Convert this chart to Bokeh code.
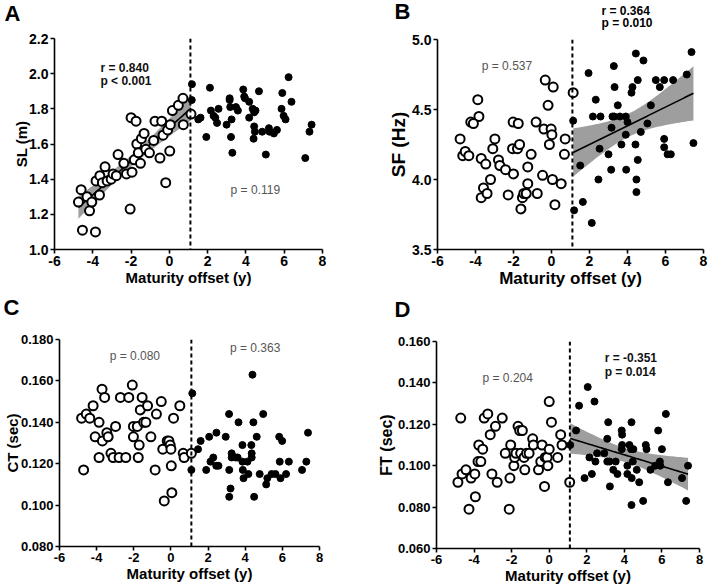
import numpy as np
from bokeh.plotting import figure
from bokeh.layouts import column, row
from bokeh.models import Range1d, FixedTicker, NumeralTickFormatter, PrintfTickFormatter, Span, Label
from bokeh.core.properties import value
from bokeh.embed import file_html
from bokeh.resources import INLINE

FONT = "Liberation Sans"

# Maturity offset cut-off separating pre-PHV (open) and post-PHV (filled) players
phv_cut = 1.1
x_ticks = [-6, -4, -2, 0, 2, 4, 6, 8]

# ---- A: stride length ----
a_pre_x = [-4.75, -4.61, -4.54, -4.30, -4.17, -4.05, -3.86, -3.83, -3.65, -3.63, -3.50, -3.36, -3.25, -3.04, -2.94,
           -2.77, -2.68, -2.38, -2.24, -2.05, -2.00, -1.95, -1.83, -1.74, -1.70, -1.62, -1.51, -1.46, -1.32, -1.23,
           -1.04, -0.82, -0.75, -0.49, -0.40, -0.33, -0.19, -0.09, 0.02, 0.05, 0.16, 0.47, 0.71, 0.73, 1.13]
a_pre_y = [1.27, 1.34, 1.11, 1.30, 1.22, 1.27, 1.10, 1.39, 1.31, 1.42, 1.38, 1.47, 1.39, 1.40, 1.43,
           1.42, 1.54, 1.49, 1.43, 1.23, 1.75, 1.44, 1.51, 1.73, 1.60, 1.55, 1.49, 1.63, 1.66, 1.57,
           1.55, 1.62, 1.73, 1.52, 1.73, 1.65, 1.38, 1.68, 1.56, 1.71, 1.79, 1.82, 1.86, 1.71, 1.77]
a_post_x = [1.18, 1.17, 1.51, 1.63, 1.93, 2.12, 2.17, 2.31, 2.40, 2.49, 2.57, 2.99, 3.15, 3.15, 3.18, 3.22,
            3.25, 3.29, 3.48, 3.58, 3.86, 3.91, 3.95, 4.17, 4.17, 4.35, 4.43, 4.50, 4.43, 4.47, 4.40, 4.68,
            4.85, 5.04, 5.20, 5.23, 5.46, 5.62, 5.86, 5.90, 5.97, 6.07, 6.23, 6.38, 7.10, 7.32, 7.43]
a_post_y = [1.94, 1.85, 1.74, 1.75, 1.64, 1.92, 1.79, 1.76, 1.75, 1.72, 1.80, 1.71, 1.86, 1.85, 1.81, 1.64,
            1.74, 1.55, 1.81, 1.79, 1.91, 1.87, 1.86, 1.84, 1.75, 1.80, 1.78, 1.79, 1.70, 1.67, 1.63, 1.90,
            1.67, 1.54, 1.69, 1.67, 1.66, 1.68, 1.80, 1.89, 1.76, 1.74, 1.98, 1.84, 1.52, 1.67, 1.71]

# ---- B: stride frequency ----
b_pre_x = [-4.81, -4.67, -4.54, -4.35, -3.88, -3.82, -4.25, -4.11, -3.70, -3.58, -3.70, -3.46, -3.39, -3.21,
           -3.09, -2.98, -2.79, -2.72, -2.42, -2.28, -2.05, -2.02, -2.00, -1.79, -1.75, -1.68, -1.61, -1.53,
           -1.46, -1.33, -1.25, -1.25, -1.07, -0.81, -0.75, -0.47, -0.40, -0.33, -0.18, -0.11, -0.02, 0.02,
           0.05, 0.09, 0.18, 0.51, 0.72, 0.68, 1.14]
b_pre_y = [4.29, 4.17, 4.20, 4.17, 4.57, 4.45, 4.41, 4.40, 4.15, 3.94, 3.87, 4.11, 3.90, 4.00,
           4.22, 4.29, 4.14, 4.10, 4.07, 3.89, 4.22, 4.41, 4.04, 4.22, 4.40, 4.25, 3.79, 3.87,
           3.90, 3.90, 4.09, 3.97, 4.18, 4.41, 3.90, 4.03, 4.36, 4.71, 4.53, 4.25, 4.36, 4.32,
           4.00, 4.66, 3.82, 3.97, 4.29, 4.18, 4.62]
b_post_x = [1.14, 1.19, 1.51, 1.65, 1.95, 2.12, 2.18, 2.33, 2.47, 2.58, 2.53, 3.00, 3.14, 3.16, 3.21, 3.28,
            3.30, 3.32, 3.49, 3.60, 3.68, 3.91, 3.91, 3.93, 4.00, 4.21, 4.26, 4.42, 4.44, 4.47, 4.47, 4.54,
            4.54, 4.70, 4.84, 5.05, 5.23, 5.49, 5.70, 5.93, 5.93, 5.93, 6.11, 6.28, 6.40, 7.12, 7.37, 7.47]
b_post_y = [4.42, 3.78, 4.10, 3.84, 4.76, 3.69, 4.45, 4.57, 4.00, 4.45, 4.22, 4.18, 4.07, 4.37, 4.45, 4.81,
            4.45, 4.66, 4.53, 4.45, 4.25, 4.45, 4.32, 4.07, 4.41, 4.62, 4.66, 4.25, 4.90, 4.00, 3.91, 4.71,
            4.14, 4.34, 4.85, 4.40, 4.53, 4.71, 4.66, 4.71, 4.29, 4.23, 4.18, 4.18, 4.71, 4.75, 4.91, 4.26]

# ---- C: contact time ----
c_pre_x = [-4.81, -4.70, -4.56, -4.37, -4.19, -4.08, -3.87, -3.87, -3.71, -3.69, -3.57, -3.45, -3.38, -3.23,
           -3.11, -2.98, -2.79, -2.72, -2.43, -2.27, -2.08, -2.02, -2.02, -1.81, -1.76, -1.71, -1.65, -1.55,
           -1.47, -1.35, -1.26, -1.08, -0.85, -0.78, -0.52, -0.44, -0.36, -0.20, -0.11, -0.04, 0.00, 0.02,
           0.05, 0.14, 0.48, 0.66, 0.71, 1.10]
c_pre_y = [0.142, 0.117, 0.144, 0.142, 0.148, 0.133, 0.140, 0.123, 0.156, 0.131, 0.152, 0.135, 0.133, 0.125,
           0.123, 0.138, 0.123, 0.152, 0.123, 0.152, 0.158, 0.133, 0.138, 0.138, 0.123, 0.129, 0.146, 0.152,
           0.140, 0.140, 0.148, 0.133, 0.117, 0.144, 0.150, 0.127, 0.102, 0.131, 0.131, 0.129, 0.127, 0.119,
           0.106, 0.142, 0.148, 0.125, 0.123, 0.125]
c_post_x = [1.15, 1.10, 1.46, 1.60, 1.90, 2.06, 2.13, 2.28, 2.45, 2.44, 2.56, 2.95, 3.13, 3.14, 3.14, 3.21,
            3.27, 3.27, 3.48, 3.59, 3.64, 3.85, 3.85, 3.87, 3.91, 4.12, 4.17, 4.33, 4.35, 4.35, 4.39, 4.44,
            4.48, 4.62, 4.78, 4.97, 5.13, 5.19, 5.42, 5.63, 5.83, 5.86, 5.90, 5.99, 6.20, 6.35, 7.06, 7.29, 7.38]
c_post_y = [0.154, 0.117, 0.127, 0.131, 0.117, 0.133, 0.121, 0.123, 0.135, 0.119, 0.119, 0.133, 0.144, 0.117,
            0.104, 0.108, 0.125, 0.123, 0.123, 0.123, 0.140, 0.129, 0.121, 0.117, 0.113, 0.121, 0.115, 0.129,
            0.125, 0.123, 0.163, 0.140, 0.104, 0.133, 0.115, 0.144, 0.110, 0.113, 0.115, 0.115, 0.133, 0.121,
            0.113, 0.131, 0.115, 0.121, 0.117, 0.121, 0.135]

# ---- D: flight time ----
d_pre_x = [-4.86, -4.71, -4.64, -4.43, -4.27, -4.16, -3.96, -3.93, -3.75, -3.79, -3.64, -3.54, -3.46, -3.27,
           -3.14, -3.05, -2.86, -2.77, -2.50, -2.34, -2.13, -2.09, -2.05, -1.88, -1.84, -1.77, -1.66, -1.57,
           -1.52, -1.43, -1.34, -1.30, -1.21, -1.07, -0.88, -0.84, -0.57, -0.45, -0.38, -0.25, -0.21, -0.11,
           -0.07, 0.00, 0.00, 0.12, 0.45, 0.61, 0.68, 1.09]
d_pre_y = [0.092, 0.123, 0.096, 0.098, 0.079, 0.094, 0.096, 0.085, 0.110, 0.102, 0.102, 0.108, 0.123, 0.125,
           0.115, 0.096, 0.119, 0.092, 0.123, 0.106, 0.079, 0.094, 0.110, 0.100, 0.104, 0.106, 0.119, 0.117,
           0.106, 0.117, 0.104, 0.098, 0.106, 0.106, 0.113, 0.110, 0.098, 0.102, 0.110, 0.090, 0.104, 0.104,
           0.100, 0.108, 0.131, 0.121, 0.104, 0.115, 0.110, 0.092]
d_post_x = [1.12, 1.43, 1.59, 1.88, 2.05, 2.14, 2.27, 2.41, 2.46, 2.55, 2.93, 3.09, 3.14, 3.09, 3.21, 3.23,
            3.41, 3.54, 3.63, 3.86, 3.88, 3.88, 3.86, 4.16, 4.16, 4.27, 4.38, 4.36, 4.39, 4.38, 4.45, 4.48,
            4.66, 4.79, 5.00, 5.14, 5.18, 5.39, 5.64, 5.80, 5.89, 5.91, 6.00, 6.21, 6.32, 7.07, 7.29, 7.39]
d_post_y = [0.110, 0.117, 0.129, 0.094, 0.138, 0.104, 0.096, 0.131, 0.102, 0.106, 0.106, 0.113, 0.121, 0.102,
            0.102, 0.090, 0.098, 0.102, 0.096, 0.117, 0.115, 0.110, 0.108, 0.100, 0.096, 0.110, 0.121, 0.108,
            0.094, 0.081, 0.102, 0.108, 0.098, 0.092, 0.083, 0.110, 0.108, 0.098, 0.100, 0.117, 0.102, 0.100,
            0.108, 0.125, 0.092, 0.094, 0.083, 0.100]

HEAD_H = 30


def regression_band(x, y, t_crit=2.01, n_pts=60):
    """Least-squares line with its 95% confidence band for the mean."""
    x = np.asarray(x, float)
    y = np.asarray(y, float)
    n = len(x)
    slope, intercept = np.polyfit(x, y, 1)
    resid = y - (intercept + slope * x)
    s = np.sqrt(np.sum(resid ** 2) / (n - 2))
    sxx = np.sum((x - x.mean()) ** 2)
    xs = np.linspace(x.min(), x.max(), n_pts)
    ys = intercept + slope * xs
    half = t_crit * s * np.sqrt(1.0 / n + (xs - x.mean()) ** 2 / sxx)
    return xs, ys, ys - half, ys + half


def header(width, items):
    """Strip above a panel holding the panel letter and any outside notes (pixel space)."""
    h = figure(width=width, height=HEAD_H, output_backend="svg", toolbar_location=None,
               x_range=Range1d(0, width), y_range=Range1d(HEAD_H, 0),
               x_axis_type=None, y_axis_type=None, min_border=0,
               background_fill_color="white", border_fill_color="white")
    h.frame_align = False
    h.outline_line_color = None
    h.grid.visible = False
    for (px, py, txt, size) in items:
        h.text(x=[px], y=[py], text=[txt], text_font=value(FONT), text_font_style="bold",
               text_font_size=value(size), text_baseline="middle", text_align="left",
               text_color="black")
    return h


def panel(width, pre_x, pre_y, post_x, post_y, y_range, y_ticks, y_fmt, y_title,
          borders, fit=None, notes=(), title_size="15px", ytitle_size="16px", tick_size="14px",
          ytitle_standoff=0):
    left, right, top, bottom = borders
    p = figure(width=width, height=294 - HEAD_H, output_backend="svg", toolbar_location=None,
               x_range=Range1d(-6, 8), y_range=Range1d(*y_range),
               min_border_left=left, min_border_right=right,
               min_border_top=top - HEAD_H, min_border_bottom=bottom,
               background_fill_color="white", border_fill_color="white")
    p.frame_align = False
    p.outline_line_color = None
    p.grid.visible = False

    for ax in (p.xaxis[0], p.yaxis[0]):
        ax.axis_line_width = 1.6
        ax.axis_line_color = "black"
        ax.major_tick_line_width = 1.6
        ax.major_tick_out = 4
        ax.major_tick_in = 0
        ax.minor_tick_line_color = None
        ax.major_label_text_font = FONT
        ax.major_label_text_font_style = "bold"
        ax.major_label_text_font_size = tick_size
        ax.major_label_text_color = "black"
        ax.axis_label_text_font = FONT
        ax.axis_label_text_font_style = "bold"
        ax.axis_label_text_color = "black"
        ax.major_label_standoff = 2
        ax.axis_label_standoff = 0

    p.xaxis.ticker = FixedTicker(ticks=x_ticks)
    p.xaxis.formatter = PrintfTickFormatter(format="%d")
    p.xaxis.axis_label = "Maturity offset (y)"
    p.xaxis.axis_label_text_font_size = title_size
    p.yaxis.ticker = FixedTicker(ticks=y_ticks)
    p.yaxis.formatter = NumeralTickFormatter(format=y_fmt)
    p.yaxis.axis_label = y_title
    p.yaxis.axis_label_text_font_size = ytitle_size
    p.yaxis.axis_label_standoff = ytitle_standoff

    # regression line with confidence band
    if fit is not None:
        xs, ys, lo, hi = regression_band(*fit)
        p.varea(x=xs, y1=lo, y2=hi, fill_color="#9e9e9e", fill_alpha=1.0)
        p.line(xs, ys, line_color="black", line_width=1.6)

    p.add_layout(Span(location=phv_cut, dimension="height", line_color="black",
                      line_width=2, line_dash="4 3"))

    p.scatter(pre_x, pre_y, size=9, fill_color="white", line_color="black", line_width=2)
    p.scatter(post_x, post_y, size=7, fill_color="black", line_color="black", line_width=1)

    for (nx, ny, txt, bold) in notes:
        p.add_layout(Label(x=nx, y=ny, text=txt, text_font=FONT,
                           text_font_style="bold" if bold else "normal",
                           text_font_size="12px", text_baseline="middle", text_align="left",
                           text_color="#111111" if bold else "#555555"))
    return p


WL, WR = 354, 355

pA = panel(WL, a_pre_x, a_pre_y, a_post_x, a_post_y, (1.0, 2.2),
           [1.0, 1.2, 1.4, 1.6, 1.8, 2.0, 2.2], "0.0", "SL (m)",
           (54, 32, 38, 45), fit=(a_pre_x, a_pre_y),
           notes=[(-3.6, 2.03, "r = 0.840", True), (-3.6, 1.96, "p < 0.001", True),
                  (3.2, 1.34, "p = 0.119", False)],
           title_size="15px", ytitle_size="15px", ytitle_standoff=-4)
hA = header(WL, [(4, 13, "A", "22px")])

pB = panel(WR, b_pre_x, b_pre_y, b_post_x, b_post_y, (3.5, 5.0),
           [3.5, 4.0, 4.5, 5.0], "0.0", "SF (Hz)",
           (83, 6, 39, 45), fit=(b_post_x, b_post_y),
           notes=[(-3.67, 4.81, "p = 0.537", False)],
           title_size="17px", ytitle_size="19px")
hB = header(WR, [(40, 11, "B", "22px"), (247, 10, "r = 0.364", "12px"), (247, 22, "p = 0.010", "12px")])

pC = panel(WL, c_pre_x, c_pre_y, c_post_x, c_post_y, (0.08, 0.18),
           [0.08, 0.10, 0.12, 0.14, 0.16, 0.18], "0.000", "CT (sec)",
           (53, 35, 45, 42),
           notes=[(-3.3, 0.172, "p = 0.080", False), (3.18, 0.176, "p = 0.363", False)],
           title_size="15px", ytitle_size="15px", tick_size="13px", ytitle_standoff=-3)
hC = header(WL, [(3, 13, "C", "22px")])

pD = panel(WR, d_pre_x, d_pre_y, d_post_x, d_post_y, (0.06, 0.16),
           [0.06, 0.08, 0.10, 0.12, 0.14, 0.16], "0.000", "FT (sec)",
           (82, 10, 47, 40), fit=(d_post_x, d_post_y),
           notes=[(2.95, 0.152, "r = -0.351", True), (2.95, 0.1455, "p = 0.014", True),
                  (-3.55, 0.1423, "p = 0.204", False)],
           title_size="15px", ytitle_size="16px", tick_size="13px")
hD = header(WR, [(40, 15, "D", "22px")])

page = column(row(column(hA, pA), column(hB, pB)), row(column(hC, pC), column(hD, pD)))
open("out.html", "w").write(file_html(page, INLINE))
